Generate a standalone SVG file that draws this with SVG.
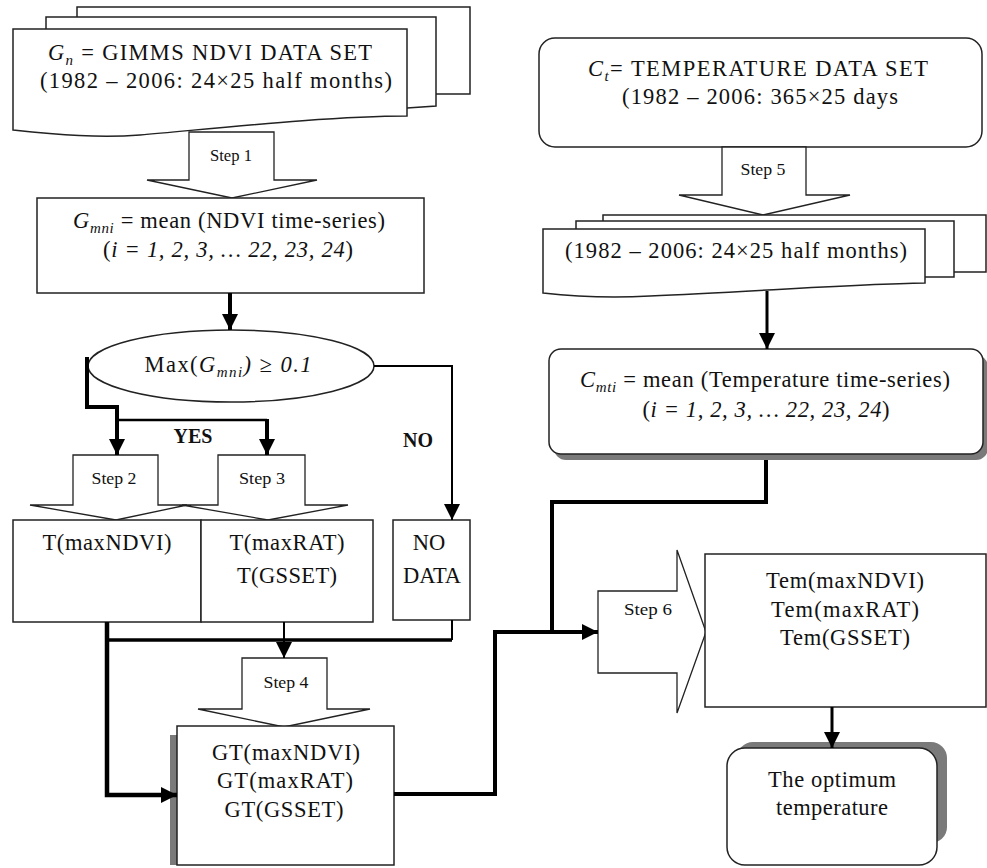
<svg xmlns="http://www.w3.org/2000/svg" width="987" height="868" viewBox="0 0 987 868">
<defs>
<style>
.bx{fill:#fff;stroke:#222;stroke-width:1.5}
.st{fill:#fff;stroke:#222;stroke-width:1.3}
.sh{fill:#7a7a7a;stroke:none}
.t{font-family:"Liberation Serif","Times New Roman",serif;font-size:22.5px;fill:#111;text-anchor:middle}
.s{font-family:"Liberation Serif","Times New Roman",serif;font-size:17px;fill:#111;text-anchor:middle}
.b{font-family:"Liberation Serif","Times New Roman",serif;font-size:20px;font-weight:bold;fill:#111;text-anchor:middle}
.i{font-style:italic}
.sub{font-size:15px;font-style:italic}
.c{fill:none;stroke:#000;stroke-linejoin:miter}
</style>
<marker id="ah" markerUnits="userSpaceOnUse" markerWidth="16" markerHeight="16" refX="16" refY="8" orient="auto" viewBox="0 0 16 16">
<path d="M0,0 L16,8 L0,16 Z" fill="#000"/>
</marker>
</defs>

<g id="ndvi-dataset">
<path class="bx" d="M77,17 V7 H470 V94 H436"/>
<path class="bx" d="M46,29 V17 H436 V106 L407,108"/>
<path class="bx" d="M13,29 H407 V116 C330,116 220,128 140,135 C100,138 60,135 13,130 Z"/>
<text class="t" x="210" y="60" textLength="324" lengthAdjust="spacing"><tspan class="i">G</tspan><tspan class="sub" dy="5">n</tspan><tspan dy="-5"> = GIMMS NDVI DATA SET</tspan></text>
<text class="t" x="216" y="88" textLength="352" lengthAdjust="spacing">(1982 – 2006: 24×25 half months)</text>
</g>

<g id="step1"><polygon class="st" points="189,132 274,132 274,180 317,180 232,198 147,180 189,180"/><text class="s" x="231" y="161" textLength="42" lengthAdjust="spacingAndGlyphs">Step 1</text></g>

<g id="ndvi-mean">
<rect class="bx" x="37" y="198" width="387" height="95"/>
<text class="t" x="229" y="228" textLength="312" lengthAdjust="spacing"><tspan class="i">G</tspan><tspan class="sub" dy="5">mni</tspan><tspan dy="-5"> = mean (NDVI time-series)</tspan></text>
<text class="t" x="228" y="257" textLength="250" lengthAdjust="spacing">(<tspan class="i">i = 1, 2, 3, … 22, 23, 24</tspan>)</text>
</g>

<g id="decision">
<ellipse class="bx" cx="231" cy="366" rx="143" ry="36"/>
<text class="t" x="228" y="372" textLength="167" lengthAdjust="spacing">Max(<tspan class="i">G</tspan><tspan class="sub" dy="5">mni</tspan><tspan class="i" dy="-5">) ≥ 0.1</tspan></text>
</g>

<g id="step2"><polygon class="st" points="73,455 158,455 158,505 187,505 116,520 30,505 73,505"/><text class="s" x="114" y="484" textLength="45" lengthAdjust="spacingAndGlyphs">Step 2</text></g>
<g id="step3"><polygon class="st" points="218,455 305,455 305,505 348,505 268,520 182,505 218,505"/><text class="s" x="262" y="484" textLength="46" lengthAdjust="spacingAndGlyphs">Step 3</text></g>

<g id="t-maxndvi">
<rect class="bx" x="13" y="520" width="188" height="102"/>
<text class="t" x="107" y="550" textLength="129" lengthAdjust="spacing">T(maxNDVI)</text>
</g>
<g id="t-maxrat">
<rect class="bx" x="201" y="520" width="172" height="102"/>
<text class="t" x="287" y="550" textLength="115" lengthAdjust="spacing">T(maxRAT)</text>
<text class="t" x="287" y="583" textLength="100" lengthAdjust="spacing">T(GSSET)</text>
</g>
<g id="no-data">
<rect class="bx" x="393" y="520" width="77" height="100"/>
<text class="t" x="429" y="550">NO</text>
<text class="t" x="432" y="583">DATA</text>
</g>

<g id="step4"><polygon class="st" points="242,658 327,658 327,709 370,709 284,727 198,709 242,709"/><text class="s" x="286" y="688" textLength="45" lengthAdjust="spacingAndGlyphs">Step 4</text></g>

<g id="gt">
<rect class="sh" x="170" y="735" width="20" height="130"/>
<rect class="bx" x="177" y="726" width="217" height="139"/>
<text class="t" x="286" y="760" textLength="148" lengthAdjust="spacing">GT(maxNDVI)</text>
<text class="t" x="285" y="788" textLength="136" lengthAdjust="spacing">GT(maxRAT)</text>
<text class="t" x="284" y="817" textLength="119" lengthAdjust="spacing">GT(GSSET)</text>
</g>

<g id="temp-dataset">
<rect class="bx" x="539" y="38" width="443" height="109" rx="16"/>
<text class="t" x="758" y="76" textLength="340" lengthAdjust="spacing"><tspan class="i">C</tspan><tspan class="sub" dy="5">t</tspan><tspan dy="-5">= TEMPERATURE DATA SET</tspan></text>
<text class="t" x="760" y="104" textLength="276" lengthAdjust="spacing">(1982 – 2006: 365×25 days</text>
</g>

<g id="step5"><polygon class="st" points="722,147 806,147 806,195 850,195 763,215 679,195 722,195"/><text class="s" x="763" y="175" textLength="45" lengthAdjust="spacingAndGlyphs">Step 5</text></g>

<g id="temp-halfmonths">
<path class="bx" d="M603,221 V215 H986 V272 H954"/>
<path class="bx" d="M576,229 V221 H954 V277 H925"/>
<path class="bx" d="M543,229 H925 V283 C850,284 750,292 650,296 C610,298 570,296 543,293 Z"/>
<text class="t" x="736" y="258" textLength="342" lengthAdjust="spacing">(1982 – 2006: 24×25 half months)</text>
</g>

<g id="temp-mean">
<rect class="sh" x="554" y="355" width="434" height="105" rx="12"/>
<rect class="bx" x="549" y="349" width="434" height="105" rx="12"/>
<text class="t" x="765" y="387" textLength="370" lengthAdjust="spacing"><tspan class="i">C</tspan><tspan class="sub" dy="5">mti</tspan><tspan dy="-5"> = mean (Temperature time-series)</tspan></text>
<text class="t" x="766" y="417" textLength="247" lengthAdjust="spacing">(<tspan class="i">i = 1, 2, 3, … 22, 23, 24</tspan>)</text>
</g>

<g id="step6"><polygon class="st" points="598,591 677,591 677,550 706,632 677,713 677,673 598,673"/><text class="s" x="648" y="615" textLength="48" lengthAdjust="spacingAndGlyphs">Step 6</text></g>

<g id="tem">
<rect class="bx" x="705" y="554" width="281" height="153"/>
<text class="t" x="845" y="588" textLength="158" lengthAdjust="spacing">Tem(maxNDVI)</text>
<text class="t" x="845" y="617" textLength="148" lengthAdjust="spacing">Tem(maxRAT)</text>
<text class="t" x="845" y="645" textLength="130" lengthAdjust="spacing">Tem(GSSET)</text>
</g>

<g id="optimum">
<rect class="sh" x="737" y="742" width="210" height="101" rx="16"/>
<rect class="bx" x="727" y="748" width="210" height="117" rx="18"/>
<text class="t" x="832" y="787" textLength="128" lengthAdjust="spacing">The optimum</text>
<text class="t" x="832" y="815" textLength="112" lengthAdjust="spacing">temperature</text>
</g>

<g id="connectors">
<path class="c" d="M230,293 V330" stroke-width="4" marker-end="url(#ah)"/>
<path class="c" d="M87,357 V407 H117 V455" stroke-width="4" marker-end="url(#ah)"/>
<path class="c" d="M117,420 H267" stroke-width="2.5"/>
<path class="c" d="M267,419 V455" stroke-width="4" marker-end="url(#ah)"/>
<path class="c" d="M374,366 H452 V520" stroke-width="2" marker-end="url(#ah)"/>
<path class="c" d="M107,622 V795 H177" stroke-width="4.5" marker-end="url(#ah)"/>
<path class="c" d="M107,640 H452" stroke-width="3.5"/>
<path class="c" d="M452,620 V640" stroke-width="2"/>
<path class="c" d="M284,622 V658" stroke-width="2" marker-end="url(#ah)"/>
<path class="c" d="M394,794 H495 V632 H598" stroke-width="4" marker-end="url(#ah)"/>
<path class="c" d="M766,460 V502 H552 V632" stroke-width="4"/>
<path class="c" d="M767,291 V349" stroke-width="3" marker-end="url(#ah)"/>
<path class="c" d="M832,707 V748" stroke-width="3" marker-end="url(#ah)"/>
<text class="b" x="193" y="443">YES</text>
<text class="b" x="418" y="447">NO</text>
</g>
</svg>
